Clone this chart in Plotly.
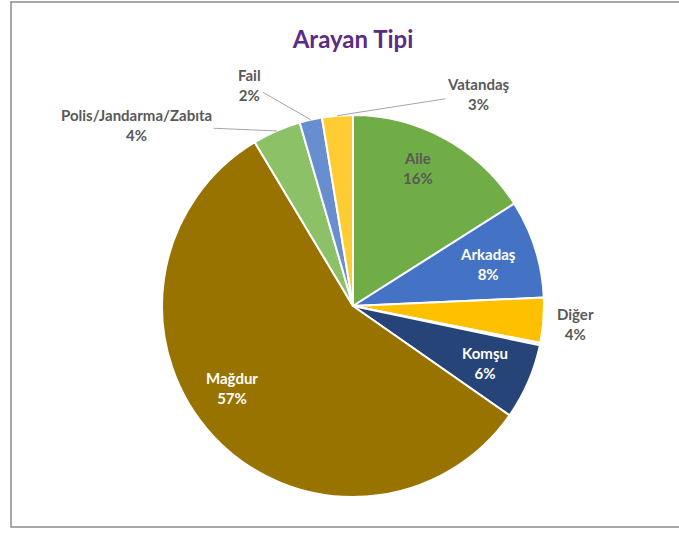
import math
import plotly.graph_objects as go

labels = ["Aile", "Arkadaş", "Diğer", "Bilinmiyor", "Komşu", "Mağdur",
          "Polis/Jandarma/Zabıta", "Fail", "Vatandaş"]
values = [16.0, 8.3, 3.8, 0.2, 6.4, 56.7, 4.1, 1.9, 2.6]
colors = ["#70AD47", "#4472C4", "#FFC000", "#A5A5A5", "#264478", "#997300",
          "#8CC168", "#698ED0", "#FFCD33"]

# label placement: (radius fraction, x shift px, y shift px (down), arrow, text colour)
placement = {
    "Aile": (0.80, -9, -4, False, "#595959"),
    "Arkadaş": (0.74, 0, 0, False, "white"),
    "Diğer": (1.0, 32, 4, False, "#595959"),
    "Komşu": (0.75, 1, 0, False, "white"),
    "Mağdur": (0.76, -15, -17, False, "white"),
    "Polis/Jandarma/Zabıta": (1.0, -140, -6, True, "#595959"),
    "Fail": (1.0, -61, -35, True, "#595959"),
    "Vatandaş": (1.0, 141, -22, True, "#595959"),
}

W, H = 679, 533
dom_x = [162 / W, 544 / W]
dom_y = [36 / H, 418 / H]
cx = (dom_x[0] + dom_x[1]) / 2 * W
cy = (dom_y[0] + dom_y[1]) / 2 * H
R = min((dom_x[1] - dom_x[0]) * W, (dom_y[1] - dom_y[0]) * H) / 2
FONT = "Lato"
FS = 15

total = sum(values)

fig = go.Figure(go.Pie(
    labels=labels, values=values, sort=False, direction="clockwise",
    rotation=0, marker=dict(colors=colors, line=dict(color="white", width=2)),
    textinfo="none",
    domain=dict(x=dom_x, y=dom_y), showlegend=False, hoverinfo="label+percent",
))

annotations = []
cum = 0.0
for lab, v in zip(labels, values):
    mid = (cum + v / 2) / total * 2 * math.pi
    cum += v
    if lab not in placement:
        continue
    rf, ox, oy, arrow, col = placement[lab]
    px = (cx + rf * R * math.sin(mid)) / W
    py = (cy + rf * R * math.cos(mid)) / H
    txt = f"{lab}<br>{round(v / total * 100)}%"
    a = dict(x=px, y=py, xref="paper", yref="paper", text=txt,
             font=dict(family=FONT, size=FS, color=col, weight="bold"),
             align="center")
    if arrow:
        a.update(showarrow=True, ax=ox, ay=oy, arrowhead=0, arrowwidth=1,
                 arrowcolor="#A6A6A6", standoff=0)
    else:
        a.update(showarrow=False, xshift=ox, yshift=-oy,
                 xanchor="center", yanchor="middle")
    annotations.append(a)

fig.update_layout(
    width=W, height=H, margin=dict(l=0, r=0, t=0, b=0),
    paper_bgcolor="white", plot_bgcolor="white",
    title=dict(text="Arayan Tipi", x=cx / W, xanchor="center", y=1 - 40 / H,
               yanchor="middle",
               font=dict(family=FONT, size=24, color="#5B2C83", weight="bold")),
    annotations=annotations,
    shapes=[dict(type="rect", xref="paper", yref="paper", x0=11 / W, x1=1.02,
                 y0=6 / H, y1=1 - 2 / H, line=dict(color="#8C8C8C", width=1.5))],
)

fig.write_html("out.html", config={"displayModeBar": False},
               post_script="document.body.style.margin='0';")
